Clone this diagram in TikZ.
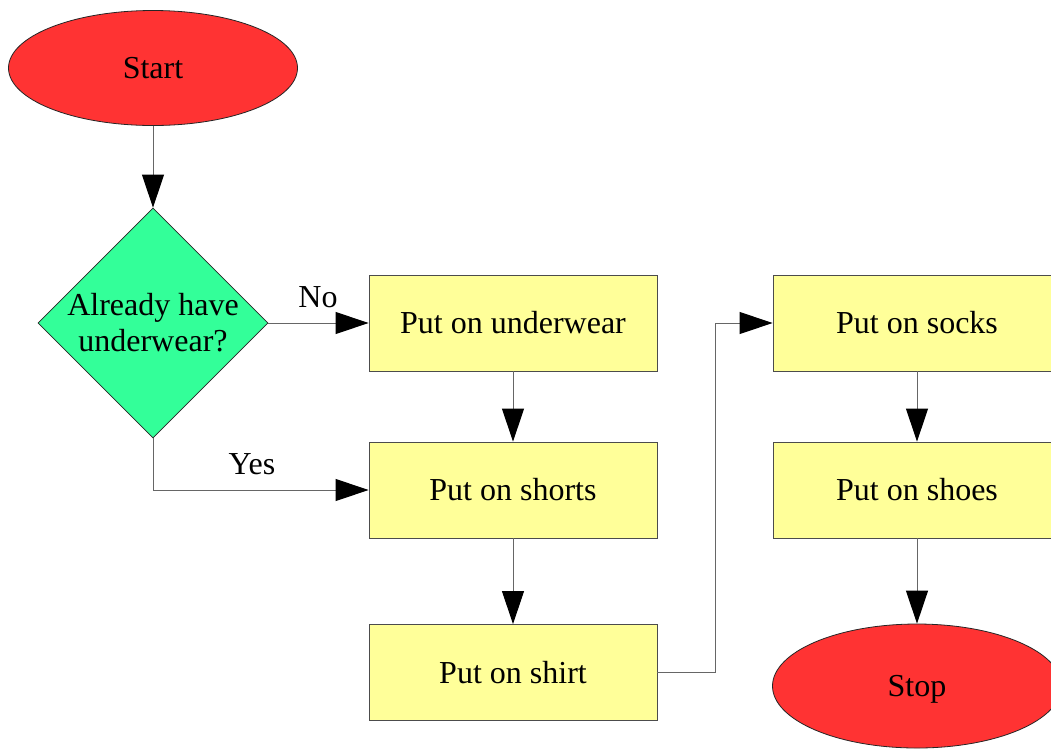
\documentclass[tikz,border=0pt]{standalone}
\usepackage{fontspec}
\setmainfont{Liberation Serif}
\usetikzlibrary{shapes.geometric,arrows.meta}
\definecolor{termred}{HTML}{FF3333}
\definecolor{decgreen}{HTML}{33FF99}
\definecolor{procyellow}{HTML}{FFFF99}
\begin{document}
\begin{tikzpicture}[x=1pt,y=-1pt,
  every node/.style={font=\fontsize{32}{36}\selectfont},
  term/.style={ellipse, draw=black!85, line width=0.8pt, fill=termred, minimum width=289pt, minimum height=115pt, inner sep=0pt, text height=21pt, text depth=0pt},
  proc/.style={rectangle, draw=black!70, line width=0.9pt, fill=procyellow, minimum width=288pt, minimum height=96pt, inner sep=0pt, text height=21pt, text depth=0pt},
  decision/.style={diamond, draw=black!85, line width=0.8pt, fill=decgreen, minimum width=230pt, minimum height=230pt, inner sep=0pt},
  flow/.style={draw=black!60, line width=1pt, -{Triangle[length=33pt,width=22pt,color=black]}},
  lbl/.style={inner sep=0pt, text height=21pt, text depth=0pt}]
\clip (0,0) rectangle (1051,748);
\fill[white] (0,0) rectangle (1051,748);
\node[term] (start) at (153,68) {Start};
\node[decision, label={[align=center, inner sep=0pt]center:Already have\\underwear?}] (dec) at (153,323) {};
\node[proc] (under) at (513,323) {Put on underwear};
\node[proc] (shorts) at (513,490) {Put on shorts};
\node[proc] (shirt) at (513,672.5) {Put on shirt};
\node[proc] (socks) at (917,323) {Put on socks};
\node[proc] (shoes) at (917,490) {Put on shoes};
\node[term, minimum height=124pt] (stop) at (917,686) {Stop};
\node[lbl] (no) at (318,297) {No};
\node[lbl] (yes) at (252,464) {Yes};
\coordinate (turn) at (715,672.5);
\draw[flow] (start) -- (dec);
\draw[flow] (dec.east) -- (under.west);
\draw[flow] (dec.south) |- (shorts.west);
\draw[flow] (under) -- (shorts);
\draw[flow] (shorts) -- (shirt);
\draw[flow] (shirt.east) -- (turn) |- (socks.west);
\draw[flow] (socks) -- (shoes);
\draw[flow] (shoes) -- (stop);
\end{tikzpicture}
\end{document}
